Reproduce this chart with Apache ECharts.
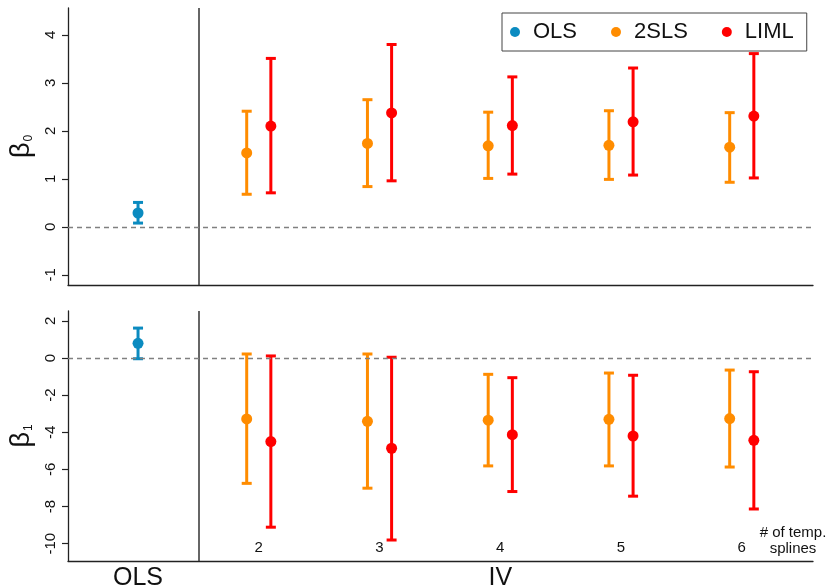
<!DOCTYPE html>
<html>
<head>
<meta charset="utf-8">
<script src="https://cdn.jsdelivr.net/npm/echarts@6/dist/echarts.min.js"></script>
<style>html,body{margin:0;padding:0;background:#fff}#chart{width:832px;height:588px}</style>
</head>
<body>
<div id="chart"></div>
<script>
// ---- data ----
const estimators = ['OLS', '2SLS', 'LIML'];
const splines = [2, 3, 4, 5, 6];
const olsPos = [1];
const bottomCategoryPos = [1, 4];
const bottomCategoryNames = ['OLS', 'IV'];
const b0Ticks = [-1, 0, 1, 2, 3, 4];
const b1Ticks = [-10, -8, -6, -4, -2, 0, 2];

// beta_0
const b0_ols = [0.29];
const b0_ols_lo = [0.08];
const b0_ols_hi = [0.51];
const b0_2sls = [1.54, 1.74, 1.69, 1.70, 1.66];
const b0_2sls_lo = [0.68, 0.84, 1.01, 0.99, 0.93];
const b0_2sls_hi = [2.41, 2.65, 2.39, 2.42, 2.38];
const b0_liml = [2.10, 2.375, 2.11, 2.19, 2.31];
const b0_liml_lo = [0.71, 0.96, 1.10, 1.08, 1.02];
const b0_liml_hi = [3.51, 3.80, 3.125, 3.31, 3.61];

// beta_1
const b1_ols = [0.79];
const b1_ols_lo = [-0.04];
const b1_ols_hi = [1.61];
const b1_2sls = [-3.28, -3.41, -3.35, -3.30, -3.26];
const b1_2sls_lo = [-6.75, -7.01, -5.81, -5.81, -5.87];
const b1_2sls_hi = [0.215, 0.215, -0.88, -0.81, -0.65];
const b1_liml = [-4.50, -4.86, -4.13, -4.20, -4.43];
const b1_liml_lo = [-9.11, -9.80, -7.19, -7.44, -8.13];
const b1_liml_hi = [0.11, 0.04, -1.06, -0.93, -0.74];

// ---- styling ----
const colors = { 'OLS': '#0b8bc0', '2SLS': '#ff8c00', 'LIML': '#ff0000' };
const FONT = 'Liberation Sans, Arial, Helvetica, sans-serif';
const dodge = 0.1;

function rows(pos, val, lo, hi, off) {
  return pos.map((p, i) => [p + off, val[i], lo[i], hi[i]]);
}

function errRender(color) {
  return function (params, api) {
    const x = api.value(0), y = api.value(1), lo = api.value(2), hi = api.value(3);
    const pc = api.coord([x, y]);
    const pl = api.coord([x, lo]);
    const ph = api.coord([x, hi]);
    const cw = 5;
    const ls = { stroke: color, lineWidth: 3 };
    return {
      type: 'group',
      children: [
        { type: 'line', shape: { x1: pl[0], y1: pl[1], x2: ph[0], y2: ph[1] }, style: ls },
        { type: 'line', shape: { x1: pl[0] - cw, y1: pl[1], x2: pl[0] + cw, y2: pl[1] }, style: ls },
        { type: 'line', shape: { x1: ph[0] - cw, y1: ph[1], x2: ph[0] + cw, y2: ph[1] }, style: ls },
        { type: 'circle', shape: { cx: pc[0], cy: pc[1], r: 5.5 }, style: { fill: color } }
      ]
    };
  };
}

function errSeries(name, gi, data, extra) {
  return Object.assign({
    name: name,
    type: 'custom',
    xAxisIndex: gi,
    yAxisIndex: gi,
    renderItem: errRender(colors[name]),
    itemStyle: { color: colors[name] },
    encode: { x: 0, y: [1, 2, 3] },
    data: data,
    z: 3
  }, extra || {});
}

function refLines() {
  return {
    silent: true,
    symbol: 'none',
    label: { show: false },
    animation: false,
    data: [
      { xAxis: 1.5, lineStyle: { color: '#333', width: 1.5, type: 'solid' } },
      { yAxis: 0, lineStyle: { color: '#808080', width: 1.3, type: [5, 4] } }
    ]
  };
}

const xMin = 0.42, xMax = 6.59;
const axisLineStyle = { color: '#222', width: 1.3 };

function yAxisDef(gi, min, max, ticks, sub) {
  return {
    type: 'value', gridIndex: gi, min: min, max: max,
    axisLine: { show: true, onZero: false, lineStyle: axisLineStyle },
    axisTick: { show: true, length: 6, customValues: ticks, lineStyle: { color: '#222', width: 1.2 } },
    axisLabel: { customValues: ticks, rotate: 90, fontSize: 15, color: '#111', fontFamily: FONT, margin: 10 },
    splitLine: { show: false },
    name: '{b|β}{s|' + sub + '}',
    nameLocation: 'middle',
    nameRotate: 90,
    nameGap: 32,
    nameTextStyle: {
      fontFamily: FONT, color: '#111',
      rich: {
        b: { fontSize: 27, fontFamily: FONT, color: '#111', lineHeight: 30, verticalAlign: 'bottom' },
        s: { fontSize: 12, fontFamily: FONT, color: '#111', lineHeight: 30, verticalAlign: 'bottom', padding: [0, 0, 0, 1] }
      }
    }
  };
}

const option = {
  animation: false,
  backgroundColor: '#fff',
  textStyle: { fontFamily: FONT },
  legend: {
    left: 502, top: 13,
    padding: [8, 13, 8, 8],
    borderColor: '#444', borderWidth: 1,
    itemWidth: 26, itemHeight: 10, itemGap: 34,
    icon: 'circle',
    textStyle: { fontSize: 22, color: '#111', fontFamily: FONT },
    data: estimators
  },
  grid: [
    { left: 68, right: 19, top: 8, height: 277, outerBoundsMode: 'none', containLabel: false },
    { left: 68, right: 19, top: 311, height: 250, outerBoundsMode: 'none', containLabel: false }
  ],
  xAxis: [
    {
      type: 'value', gridIndex: 0, min: xMin, max: xMax,
      axisLine: { show: true, onZero: false, lineStyle: axisLineStyle },
      axisTick: { show: false }, axisLabel: { show: false }, splitLine: { show: false }
    },
    {
      type: 'value', gridIndex: 1, min: xMin, max: xMax,
      axisLine: { show: true, onZero: false, lineStyle: axisLineStyle },
      axisTick: { show: false },
      axisLabel: { inside: true, customValues: splines, fontSize: 15, color: '#111', fontFamily: FONT, margin: 6 },
      splitLine: { show: false }
    },
    {
      type: 'value', gridIndex: 1, min: xMin, max: xMax, position: 'bottom',
      axisLine: { show: false, onZero: false },
      axisTick: { show: false },
      axisLabel: {
        customValues: bottomCategoryPos, fontSize: 25, color: '#111', fontFamily: FONT, margin: 5,
        formatter: function (v) { const i = bottomCategoryPos.indexOf(v); return i >= 0 ? bottomCategoryNames[i] : ''; }
      },
      splitLine: { show: false }
    }
  ],
  yAxis: [
    yAxisDef(0, -1.21, 4.56, b0Ticks, '0'),
    yAxisDef(1, -10.93, 2.53, b1Ticks, '1')
  ],
  graphic: [
    {
      type: 'text', x: 793, y: 525,
      style: { text: '# of temp.\nsplines', fontSize: 15, fontFamily: FONT, fill: '#111', align: 'center', verticalAlign: 'top', lineHeight: 16 }
    }
  ],
  series: [
    errSeries('OLS', 0, rows(olsPos, b0_ols, b0_ols_lo, b0_ols_hi, 0), { markLine: refLines() }),
    errSeries('2SLS', 0, rows(splines, b0_2sls, b0_2sls_lo, b0_2sls_hi, -dodge)),
    errSeries('LIML', 0, rows(splines, b0_liml, b0_liml_lo, b0_liml_hi, dodge)),
    errSeries('OLS', 1, rows(olsPos, b1_ols, b1_ols_lo, b1_ols_hi, 0), { markLine: refLines() }),
    errSeries('2SLS', 1, rows(splines, b1_2sls, b1_2sls_lo, b1_2sls_hi, -dodge)),
    errSeries('LIML', 1, rows(splines, b1_liml, b1_liml_lo, b1_liml_hi, dodge))
  ]
};

const chart = echarts.init(document.getElementById('chart'), null, { renderer: 'canvas' });
chart.setOption(option);
</script>
</body>
</html>
